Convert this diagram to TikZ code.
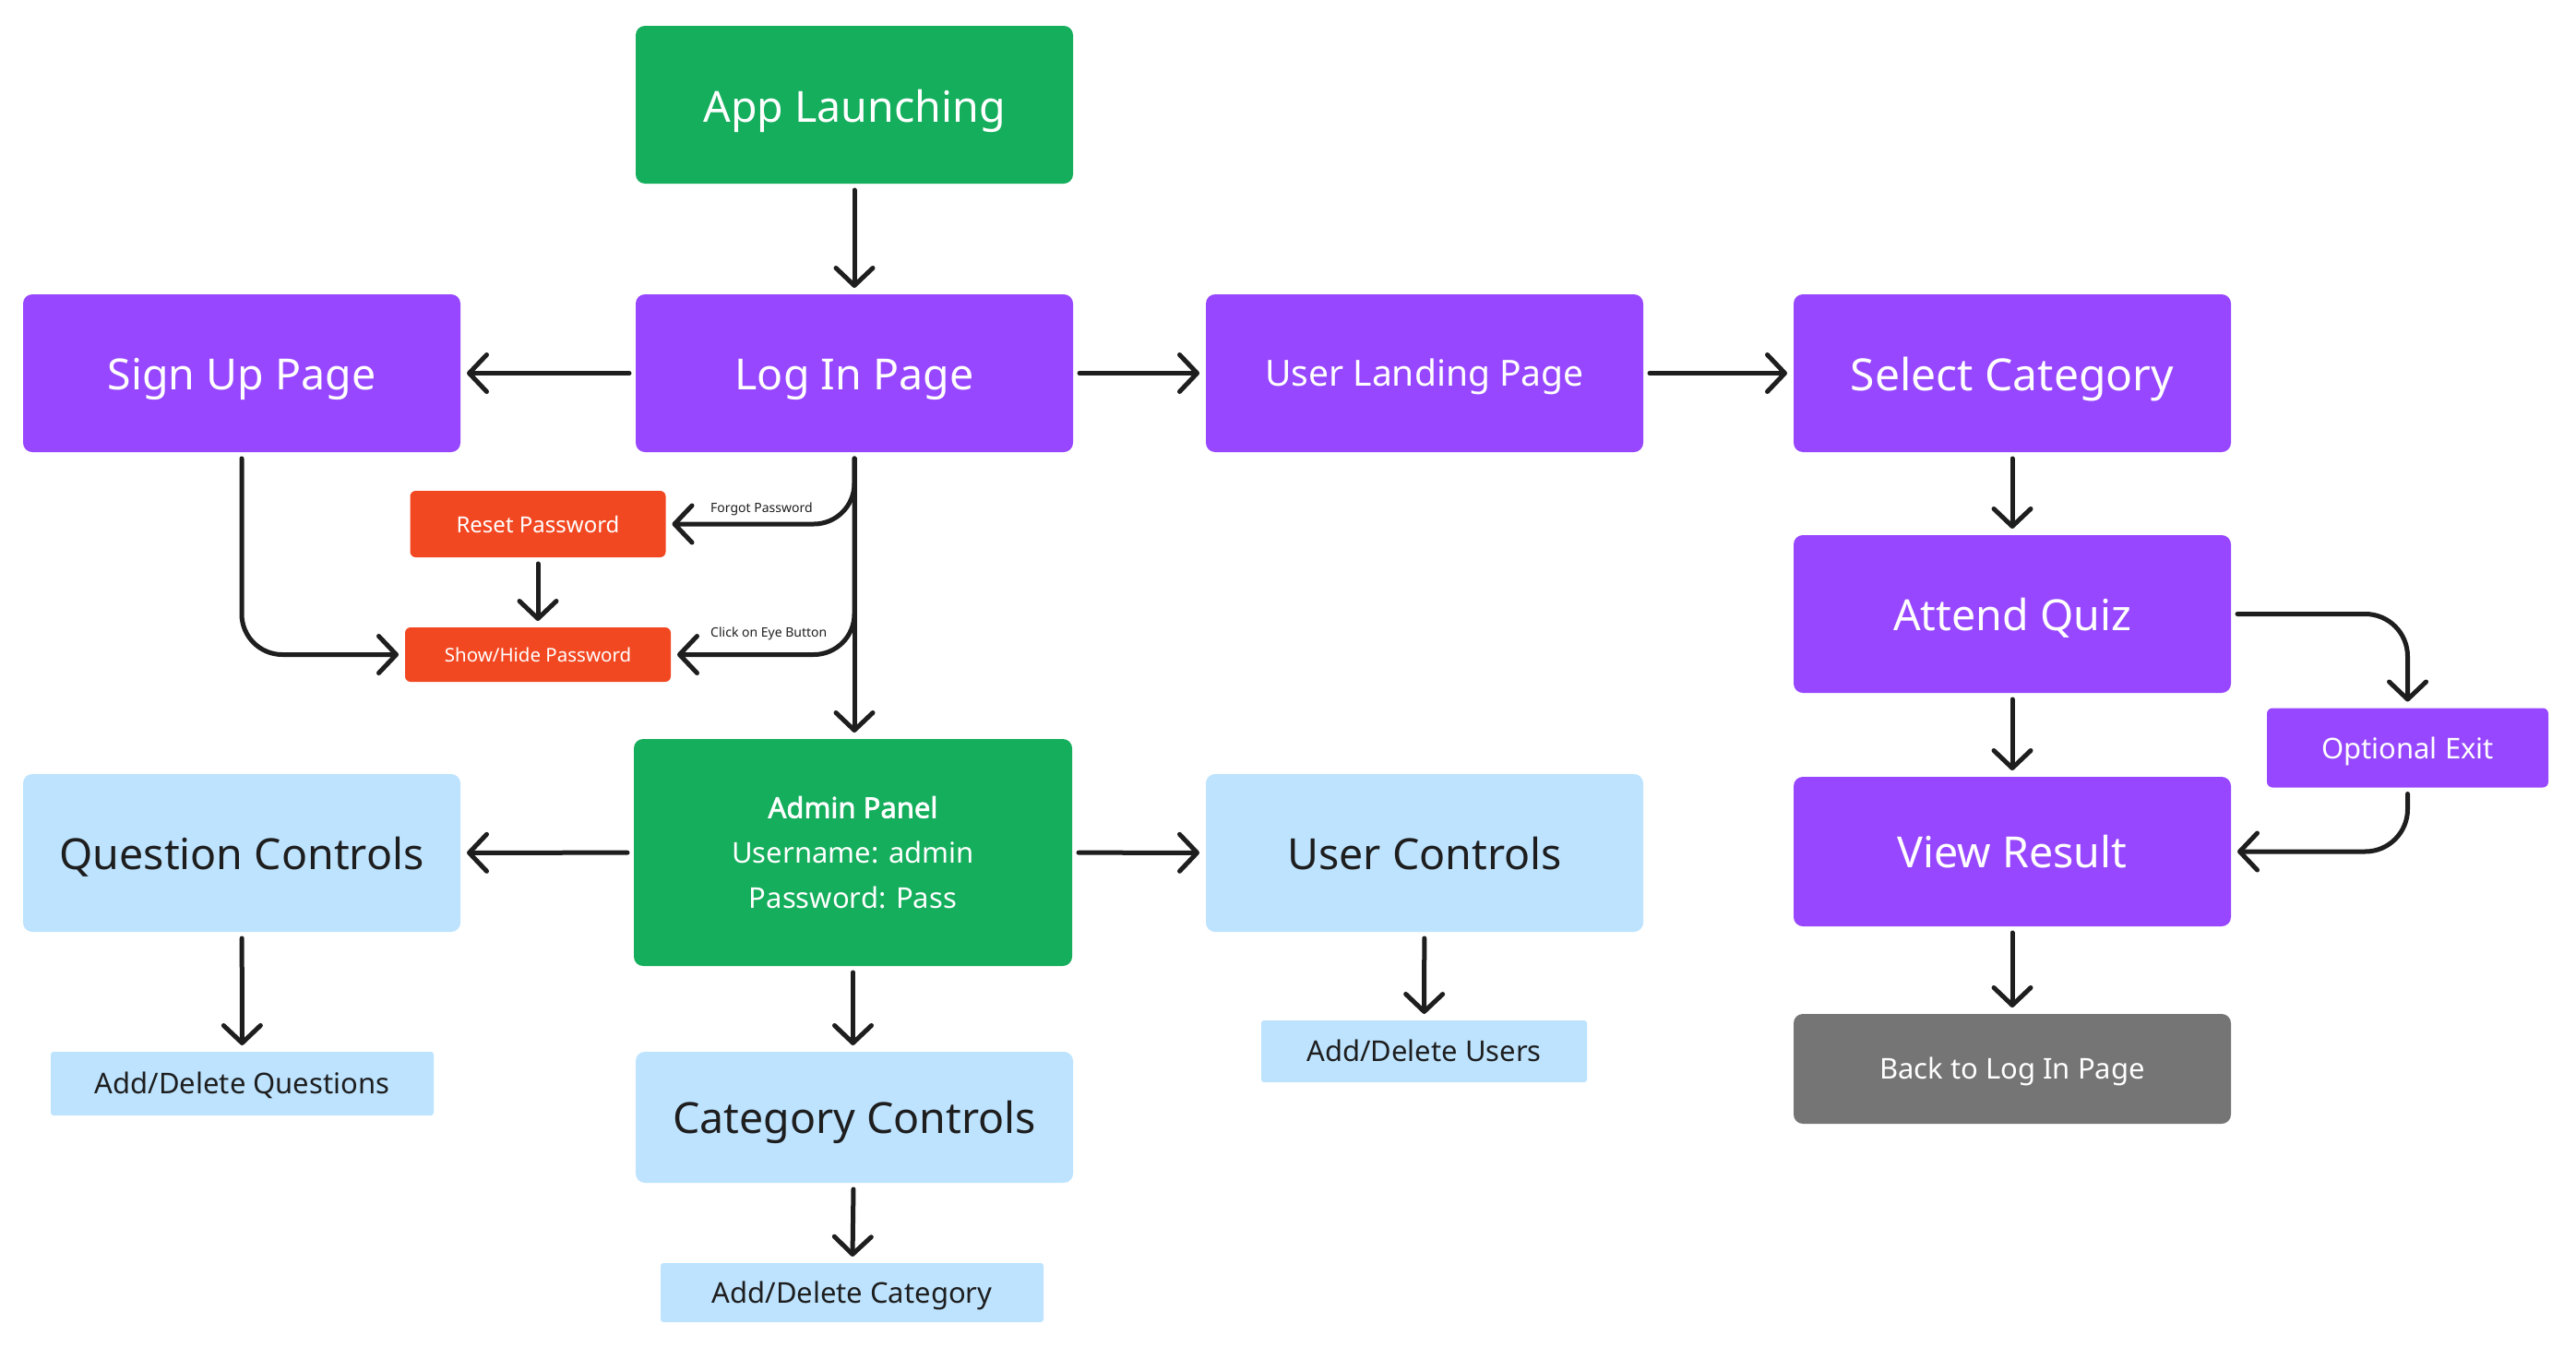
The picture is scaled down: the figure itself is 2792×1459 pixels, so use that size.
\documentclass[tikz,border=0pt]{standalone}
\usepackage{fontspec}
\setmainfont{Noto Sans}[AutoFakeBold=2.2]
\usetikzlibrary{arrows.meta}
\definecolor{cgreen}{HTML}{14AE5C}
\definecolor{cpurple}{HTML}{9747FF}
\definecolor{cred}{HTML}{F24822}
\definecolor{cblue}{HTML}{BDE3FF}
\definecolor{cgray}{HTML}{757575}
\definecolor{cdark}{HTML}{1E1E1E}
\tikzset{
  box/.style={rectangle, rounded corners=10pt, draw=none, inner sep=0pt, outer sep=7pt},
  oneline/.style={text height=#1, text depth=0pt},
  bigbox/.style={box, oneline=35pt, minimum width=474pt, minimum height=171pt},
  purplebox/.style={bigbox, fill=cpurple, text=white},
  greenbox/.style={bigbox, fill=cgreen, text=white},
  bluebox/.style={bigbox, fill=cblue, text=cdark},
  smallblue/.style={box, oneline=22.5pt, fill=cblue, text=cdark, rounded corners=3pt, font=\fontsize{31}{38}\selectfont},
  redbox/.style={box, fill=cred, text=white, rounded corners=6pt},
  fbig/.style={font=\fontsize{46.5}{55}\selectfont},
  arr/.style={draw=cdark, line width=5pt, line cap=round, line join=round,
    -{Straight Barb[length=19pt,width=40pt,line cap=round,line join=round]}},
  lbl/.style={font=\fontsize{14}{17}\selectfont, text=cdark, inner sep=0pt, anchor=west}
}
\begin{document}
\begin{tikzpicture}[x=1pt,y=-1pt]
\useasboundingbox[fill=white] (0,0) rectangle (2792,1459);
% nodes
\node[greenbox, fbig, oneline=38pt] (app) at (926,113.5) {App Launching};
\node[purplebox, fbig, oneline=36pt] (login) at (926,404.5) {Log In Page};
\node[purplebox, fbig, oneline=36pt] (signup) at (262,404.5) {Sign Up Page};
\node[purplebox, oneline=28pt, font=\fontsize{39}{47}\selectfont] (landing) at (1544,404.5) {User Landing Page};
\node[purplebox, oneline=37pt, font=\fontsize{48}{56}\selectfont] (selcat) at (2181,404.5) {Select Category};
\node[purplebox, fbig] (quiz) at (2181,665.5) {Attend Quiz};
\node[box, oneline=24pt, fill=cpurple, text=white, rounded corners=6pt, minimum width=305pt, minimum height=86pt, font=\fontsize{31}{38}\selectfont] (optexit) at (2609.5,810.5) {Optional Exit};
\node[purplebox, fbig, minimum height=162pt] (result) at (2181,923) {View Result};
\node[box, oneline=22.5pt, fill=cgray, text=white, minimum width=474pt, minimum height=119pt, font=\fontsize{31}{38}\selectfont] (back) at (2181,1158.5) {Back to Log In Page};
\node[redbox, minimum width=277pt, minimum height=72pt, font=\fontsize{24}{29}\selectfont] (reset) at (583,568) {Reset Password};
\node[redbox, minimum width=288pt, minimum height=59pt, font=\fontsize{20.5}{25}\selectfont] (showhide) at (583,709.5) {Show/Hide Password};
\node[box, align=center, fill=cgreen, text=white, minimum width=475pt, minimum height=246pt, font=\fontsize{31}{49}\selectfont] (admin) at (924.5,924) {\textbf{Admin Panel}\\Username: admin\\Password: Pass};
\node[bluebox, fbig] (qctrl) at (262,924.5) {Question Controls};
\node[bluebox, fbig] (uctrl) at (1544,924.5) {User Controls};
\node[smallblue, minimum width=415pt, minimum height=69pt] (addq) at (262.5,1174.5) {Add/Delete Questions};
\node[bluebox, fbig, minimum height=142pt] (catctrl) at (926,1211) {Category Controls};
\node[smallblue, minimum width=415pt, minimum height=64pt] (addcat) at (923.5,1401) {Add/Delete Category};
\node[smallblue, minimum width=353pt, minimum height=67pt] (addu) at (1543.5,1139.5) {Add/Delete Users};
% labels
\node[lbl] (lforgot) at (770,552) {Forgot Password};
\node[lbl] (leye) at (770,687) {Click on Eye Button};
% connectors
\draw[arr] (app) -- (login);
\draw[arr] (login) -- (signup);
\draw[arr] (login) -- (landing);
\draw[arr] (landing) -- (selcat);
\draw[arr] (selcat) -- (quiz);
\draw[arr] (quiz) -- (result);
\draw[arr] (result) -- (back);
\draw[arr, rounded corners=46pt] (quiz.east) -| (optexit.north);
\draw[arr, rounded corners=46pt] (optexit.south) |- (result.east);
\draw[arr] (login.south) -- (login.south |- admin.north);
\draw[arr, rounded corners=44pt] (login.south) |- (reset.east);
\draw[arr, rounded corners=44pt] (login.south) |- (showhide.east);
\draw[arr, rounded corners=44pt] (signup.south) |- (showhide.west);
\draw[arr] (reset) -- (showhide);
\draw[arr] (admin) -- (qctrl);
\draw[arr] (admin) -- (uctrl);
\draw[arr] (admin.south) -- (admin.south |- catctrl.north);
\draw[arr] (qctrl) -- (addq);
\draw[arr] (uctrl) -- (addu);
\draw[arr] (catctrl) -- (addcat);
\end{tikzpicture}
\end{document}
